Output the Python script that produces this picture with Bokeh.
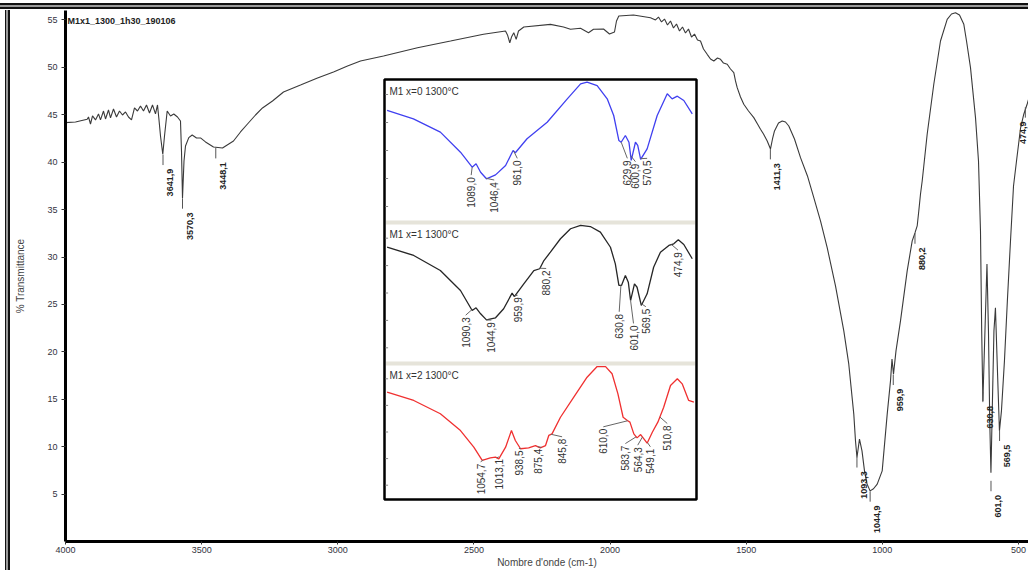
import numpy as np
from bokeh.plotting import figure
from bokeh.models import Range1d, FixedTicker, Div
from bokeh.layouts import column, row
from bokeh.core.properties import value
from bokeh.embed import file_html
from bokeh.resources import INLINE

# ---------------- data: main spectrum (wavenumber cm-1, % transmittance) -------------
main_title = "M1x1_1300_1h30_190106"
main_wn = [4000.0, 3963.3, 3920.3, 3915.5, 3908.2, 3900.8, 3889.8, 3878.8, 3871.5, 3860.4,
           3853.1, 3842.1, 3834.7, 3823.7, 3812.7, 3801.7, 3790.7, 3779.6, 3768.6, 3757.6,
           3746.6, 3735.6, 3724.6, 3713.5, 3702.5, 3691.5, 3680.5, 3669.5, 3662.1, 3657.3,
           3651.1, 3642.7, 3636.4, 3626.5, 3614.4, 3602.3, 3588.7, 3577.7, 3574.0, 3570.3,
           3564.8, 3559.3, 3547.2, 3534.7, 3518.9, 3504.2, 3485.8, 3456.5, 3423.4, 3383.0,
           3357.3, 3331.6, 3302.2, 3276.5, 3239.8, 3199.4, 3136.9, 3074.5, 3015.7, 2964.3,
           2916.6, 2832.1, 2707.2, 2586.0, 2464.9, 2384.1, 2376.7, 2368.3, 2362.0, 2353.6,
           2344.8, 2336.3, 2316.8, 2218.8, 2171.0, 2145.3, 2108.6, 2079.2, 2060.9, 2024.1,
           2002.1, 1983.8, 1976.4, 1967.9, 1914.0, 1851.5, 1833.2, 1822.2, 1811.1, 1800.1,
           1789.1, 1778.1, 1767.1, 1756.0, 1745.0, 1734.0, 1723.0, 1712.0, 1700.9, 1689.9,
           1678.9, 1667.9, 1656.9, 1643.3, 1631.2, 1619.0, 1605.5, 1594.4, 1583.4, 1569.8,
           1557.7, 1545.6, 1539.4, 1533.1, 1521.0, 1508.9, 1491.6, 1472.1, 1458.6, 1447.5,
           1436.5, 1422.9, 1410.8, 1403.5, 1396.1, 1381.4, 1367.8, 1355.7, 1343.6, 1322.7,
           1300.6, 1275.1, 1251.8, 1227.2, 1202.6, 1172.1, 1141.6, 1123.3, 1104.9, 1098.7,
           1093.3, 1084.0, 1074.8, 1065.6, 1056.4, 1045.0, 1032.5, 1018.9, 1000.6, 982.2,
           970.1, 964.6, 959.1, 949.9, 933.4, 908.8, 890.4, 880.2, 872.1, 866.2,
           860.0, 853.7, 835.4, 811.1, 786.5, 761.9, 746.1, 731.4, 716.7, 700.8,
           690.9, 676.3, 657.9, 646.9, 639.6, 635.2, 630.8, 623.2, 615.8, 610.3,
           605.6, 601.2, 595.7, 590.2, 584.7, 577.3, 570.0, 562.6, 551.6, 540.9,
           529.4, 518.3, 507.3, 492.7, 480.6, 468.1, 459.6, 447.5, 441.3, 433.9]
main_T = [44.17, 44.24, 44.53, 44.77, 44.03, 44.88, 44.46, 45.09, 44.46, 45.40,
          44.56, 45.51, 44.67, 45.61, 44.77, 45.40, 44.98, 45.30, 44.77, 44.46,
          45.72, 45.40, 45.93, 45.40, 46.04, 45.19, 46.04, 45.09, 46.04, 44.67,
          42.77, 40.84, 42.77, 45.40, 44.88, 45.09, 44.77, 44.35, 41.19, 36.23,
          40.13, 41.71, 42.59, 42.87, 42.56, 42.56, 42.14, 41.61, 41.50, 42.24,
          43.19, 44.03, 44.98, 45.72, 46.46, 47.41, 48.14, 48.88, 49.52, 50.15,
          50.67, 51.20, 52.08, 52.78, 53.49, 53.84, 53.42, 52.60, 53.20, 53.66,
          52.96, 53.84, 54.26, 54.54, 54.26, 54.02, 54.12, 53.66, 54.02, 54.05,
          53.52, 53.73, 54.89, 55.42, 55.52, 55.24, 55.00, 55.31, 54.79, 55.10,
          54.47, 54.89, 54.15, 54.58, 53.84, 54.26, 53.63, 54.05, 53.20, 53.52,
          52.89, 52.78, 51.94, 51.38, 50.89, 50.67, 50.99, 50.85, 50.46, 50.33,
          49.83, 49.44, 48.57, 47.86, 46.88, 46.11, 45.40, 44.70, 44.03, 43.47,
          42.98, 42.24, 41.40, 42.45, 43.30, 44.14, 44.35, 44.24, 43.82, 42.45,
          40.48, 38.55, 36.26, 33.81, 30.99, 26.96, 22.21, 18.70, 13.43, 10.62,
          8.86, 10.80, 9.56, 7.45, 6.08, 5.34, 5.56, 6.05, 7.45, 13.43,
          16.94, 19.23, 17.65, 20.10, 23.27, 28.54, 31.70, 32.54, 33.28, 34.86,
          36.62, 38.02, 42.95, 48.22, 52.78, 55.07, 55.63, 55.77, 55.52, 54.54,
          52.78, 49.97, 44.70, 40.13, 32.73, 22.21, 14.83, 22.21, 29.27, 22.21,
          12.72, 7.24, 14.83, 22.21, 24.64, 18.00, 11.67, 13.78, 19.05, 25.37,
          31.70, 37.49, 40.13, 43.56, 45.06, 46.14, 46.99, 47.86, 47.30, 46.46]

main_peak_wn = [3641.9, 3570.3, 3448.1, 1411.3, 1093.3, 1044.9, 959.9, 880.2, 630.8, 601.0, 569.5, 474.9]
main_peak_T = [40.8, 36.2, 41.5, 41.4, 8.9, 5.3, 17.6, 32.5, 15.8, 6.4, 11.7, 45.8]
main_peak_text = ["3641,9", "3570,3", "3448,1", "1411,3", "1093,3", "1044,9", "959,9",
                  "880,2", "630,8", "601,0", "569,5", "474,9"]

x_ticks = [4000, 3500, 3000, 2500, 2000, 1500, 1000, 500]
y_ticks = [5, 10, 15, 20, 25, 30, 35, 40, 45, 50, 55]

# ---------------- data: inset spectra (relative transmittance, 0-100 per panel) ------
inset_titles = ["M1 x=0 1300°C", "M1 x=1 1300°C", "M1 x=2 1300°C"]

x0_wn = [1351, 1270, 1187, 1125, 1089, 1077, 1063, 1045, 1017, 986, 963, 956, 920, 858, 796,
         755, 735, 704, 673, 653, 637, 630, 617, 606, 599, 586, 579, 570, 550, 519, 488, 473,
         457, 437, 411]
x0_v = [78.6, 72.6, 63.1, 48.8, 38.1, 40.5, 34.5, 29.8, 32.6, 39.3, 50.0, 48.4, 58.4, 70.2, 86.9,
        97.6, 98.8, 96.4, 86.9, 75.0, 57.1, 55.9, 60.7, 55.9, 42.9, 55.9, 53.6, 43.6, 51.2, 75.0,
        90.5, 86.9, 88.8, 85.7, 76.2]
x0_lab = ["1089,0", "1046,4", "961,0", "629,9", "600,9", "570,5"]
x0_lab_wn = [1089.0, 1046.4, 961.0, 629.9, 600.9, 570.5]
x0_lab_x = [1092, 1021, 950, 611, 586, 550]
x0_lab_top = [30.9, 27.4, 42.9, 42.9, 40.5, 42.9]

x1_wn = [1351, 1269, 1187, 1125, 1089, 1077, 1063, 1045, 1017, 992, 966, 959, 930, 899, 881,
         868, 848, 817, 786, 755, 725, 694, 663, 648, 637, 629, 617, 608, 601, 589, 581, 568,
         550, 530, 509, 483, 468, 454, 437, 411]
x1_v = [83.4, 77.4, 66.4, 51.8, 37.2, 39.2, 34.8, 30.4, 31.9, 38.5, 49.9, 47.4, 56.7, 66.4, 67.7,
        73.7, 79.8, 89.6, 96.9, 99.3, 98.5, 94.4, 83.4, 71.3, 55.5, 55.5, 62.8, 57.9, 44.5, 56.7,
        54.2, 40.9, 49.4, 68.8, 79.8, 84.7, 85.9, 88.8, 85.4, 75.0]
x1_lab = ["1090,3", "1044,9", "959,9", "880,2", "630,8", "601,0", "569,5", "474,9"]
x1_lab_wn = [1090.3, 1044.9, 959.9, 880.2, 630.8, 601.0, 569.5, 474.9]
x1_lab_x = [1109, 1030, 949, 861, 636, 592, 554, 455]
x1_lab_top = [32.3, 28.7, 46.9, 66.4, 34.8, 26.3, 38.5, 79.8]

x2_wn = [1351, 1269, 1187, 1125, 1084, 1058, 1033, 1017, 1007, 986, 968, 956, 940, 915, 894,
         879, 863, 853, 843, 817, 776, 735, 704, 678, 658, 640, 624, 611, 603, 591, 581, 570,
         560, 550, 534, 517, 499, 478, 457, 442, 422, 406]
x2_v = [79.9, 73.7, 63.7, 51.1, 38.6, 28.6, 30.6, 31.1, 29.8, 38.6, 51.1, 43.6, 37.4, 38.1, 39.8,
        38.1, 39.8, 47.4, 48.6, 61.1, 76.2, 91.2, 99.2, 99.2, 93.8, 78.7, 61.1, 58.6, 57.4, 48.6,
        45.6, 48.1, 44.9, 41.6, 49.8, 57.4, 68.6, 85.0, 90.0, 86.2, 73.7, 72.4]
x2_lab = ["1054,7", "1013,1", "938,5", "875,4", "845,8", "610,0", "583,7", "564,3", "549,1", "510,8"]
x2_lab_wn = [1054.7, 1013.1, 938.5, 875.4, 845.8, 610.0, 583.7, 564.3, 549.1, 510.8]
x2_lab_x = [1063, 1007, 945, 887, 812, 685, 617, 579, 540, 488]
x2_lab_top = [26.1, 29.8, 36.1, 37.4, 44.9, 52.4, 39.8, 38.6, 37.4, 54.9]

# ---------------- layout ----------------
FONT = "Liberation Sans"
TOTAL_W, TOTAL_H = 1028, 570
BAND = 10                      # width of the window-frame strips (top / left)
W, H = TOTAL_W - BAND, TOTAL_H - BAND
IMG_L, IMG_T = 65, 10          # plot frame's left / top edge in the picture
ML, MT, MB = IMG_L - BAND, IMG_T - BAND, 29
X0 = 4000.0
PX_PER_WN = 953.0 / 3500.0     # 4000 -> 500 spans 953 px in the reference
FW = W - ML
FH = H - MT - MB
X1 = X0 - FW / PX_PER_WN
Y0, Y1 = 0.0, 56.0
INSET_WN0, INSET_WN1 = 1356.0, 401.0


def dx(px):
    """picture column -> main x data"""
    return X0 + (px - IMG_L) / FW * (X1 - X0)


def dy(py):
    """picture row -> main y data"""
    return Y1 - (py - IMG_T) / FH * (Y1 - Y0)


p = figure(width=W, height=H, x_range=Range1d(X0, X1), y_range=Range1d(Y0, Y1),
           output_backend="svg", toolbar_location=None, margin=0,
           min_border_left=ML, min_border_right=0, min_border_top=MT, min_border_bottom=MB)
p.grid.visible = False
p.outline_line_color = None
p.background_fill_color = "white"
p.border_fill_color = "white"

for ax in (p.xaxis[0], p.yaxis[0]):
    ax.axis_line_color = "black"
    ax.axis_line_width = 3
    ax.major_tick_line_color = "#333333"
    ax.major_tick_in = 0
    ax.minor_tick_line_color = None
    ax.major_label_text_font = FONT
    ax.major_label_text_font_size = "9px"
    ax.major_label_text_color = "#333340"
    ax.axis_label_text_font = FONT
    ax.axis_label_text_font_size = "10px"
    ax.axis_label_text_font_style = "normal"
    ax.axis_label_text_color = "#444444"

p.xaxis.ticker = FixedTicker(ticks=x_ticks)
p.yaxis.ticker = FixedTicker(ticks=y_ticks)
p.xaxis.major_tick_out = 3
p.yaxis.major_tick_out = 4
p.xaxis.major_label_standoff = 2
p.yaxis.major_label_standoff = 4
p.xaxis.axis_label = "Nombre d'onde (cm-1)"
p.yaxis.axis_label = "% Transmittance"
p.xaxis.axis_label_standoff = 1
p.yaxis.axis_label_standoff = 18

# main spectrum
p.line(main_wn, main_T, line_color="#3a3a3a", line_width=1.1)
pk_T = np.array(main_peak_T)
p.segment(x0=main_peak_wn, y0=pk_T, x1=main_peak_wn, y1=pk_T - 1.1,
          line_color="#555555", line_width=1)
lab_dx = [7] * (len(main_peak_wn) - 1) + [-2]   # last label kept inside the frame
p.text(x=main_peak_wn, y=pk_T - 1.5, text=main_peak_text, angle=np.pi / 2,
       text_align="right", text_baseline="middle", x_offset=lab_dx,
       text_font=value(FONT), text_font_size="9px", text_font_style="bold",
       text_color="#222222")
p.text(x=[dx(67)], y=[dy(20.5)], text=[main_title], text_align="left",
       text_baseline="middle", text_font=value(FONT), text_font_size="9px",
       text_font_style="bold", text_color="#222222")

# inset frame and panel separators
p.quad(left=dx(384), right=dx(696), top=dy(79), bottom=dy(499),
       fill_color="white", line_color="black", line_width=2.5)
for a, b in [(220, 224), (361, 365)]:
    p.quad(left=dx(385.5), right=dx(694.5), top=dy(a), bottom=dy(b),
           fill_color="#e6e4da", line_color=None)

panels = [
    (80, 220, x0_wn, x0_v, "#4040f0", x0_lab, x0_lab_wn, x0_lab_x, x0_lab_top),
    (224, 361, x1_wn, x1_v, "#262626", x1_lab, x1_lab_wn, x1_lab_x, x1_lab_top),
    (365, 498, x2_wn, x2_v, "#f03030", x2_lab, x2_lab_wn, x2_lab_x, x2_lab_top),
]
for i, (top, bot, wn, v, col, lab, lab_wn, lab_x, lab_top) in enumerate(panels):
    sub = p.subplot(x_source=Range1d(INSET_WN0, INSET_WN1), y_source=Range1d(0, 100),
                    x_target=Range1d(dx(385), dx(695)),
                    y_target=Range1d(dy(bot), dy(top)))
    sub.segment(x0=[INSET_WN0] * 5, y0=[10, 30, 50, 70, 90], x1=[INSET_WN0 - 8] * 5,
                y1=[10, 30, 50, 70, 90], line_color="#888888", line_width=1)
    sub.line(wn, v, line_color=col, line_width=1.3)
    y_at = np.interp(lab_wn, wn[::-1], v[::-1])
    sub.segment(x0=lab_wn, y0=y_at, x1=lab_x, y1=np.array(lab_top) + 1.5,
                line_color="#666666", line_width=1)
    sub.text(x=lab_x, y=lab_top, text=lab, angle=np.pi / 2, text_align="right",
             text_baseline="middle", text_font=value(FONT), text_font_size="10px",
             text_color="#333333")
    sub.text(x=[1344], y=[92.5], text=[inset_titles[i]], text_align="left",
             text_baseline="middle", text_font=value(FONT), text_font_size="10px",
             text_color="#333333")

# window frame: double dark line along the top and the left
top_band = Div(width=TOTAL_W, height=BAND, margin=0, styles={
    "background": "linear-gradient(to bottom, white 0px, white 3px, #111 3px, #111 5px, "
                  "#9a9a9a 5px, #9a9a9a 7.5px, #111 7.5px, #111 9.5px, white 9.5px)"})
left_band = Div(width=BAND, height=H, margin=0, styles={
    "background": "linear-gradient(to right, white 0px, white 5px, #111 5px, #111 6.5px, "
                  "#9a9a9a 6.5px, #9a9a9a 8.5px, #111 8.5px, #111 10px)"})
layout = column(top_band, row(left_band, p, spacing=0, margin=0), spacing=0, margin=0)

open("out.html", "w").write(file_html(layout, INLINE))
